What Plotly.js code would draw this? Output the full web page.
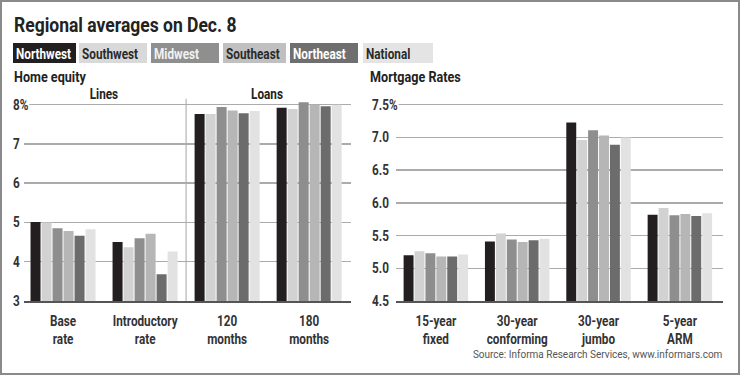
<!DOCTYPE html>
<html>
<head>
<meta charset="utf-8">
<script src="https://cdn.plot.ly/plotly-3.0.1.min.js"></script>
<style>
html,body{margin:0;padding:0;background:#fff;}
#chart{width:740px;height:375px;}
</style>
</head>
<body>
<div id="chart"></div>
<script>
// ---- data ----
const regions = ["Northwest", "Southwest", "Midwest", "Southeast", "Northeast", "National"];
const equityCategories = ["Base<br>rate", "Introductory<br>rate", "120<br>months", "180<br>months"];
const mortgageCategories = ["15-year<br>fixed", "30-year<br>conforming", "30-year<br>jumbo", "5-year<br>ARM"];

const equityNorthwest = [5.01, 4.50, 7.76, 7.92];
const equitySouthwest = [5.00, 4.37, 7.76, 7.89];
const equityMidwest   = [4.85, 4.60, 7.94, 8.06];
const equitySoutheast = [4.78, 4.71, 7.85, 8.00];
const equityNortheast = [4.66, 3.68, 7.78, 7.96];
const equityNational  = [4.83, 4.26, 7.84, 8.00];

const mortgageNorthwest = [5.20, 5.41, 7.23, 5.82];
const mortgageSouthwest = [5.26, 5.53, 6.96, 5.92];
const mortgageMidwest   = [5.23, 5.44, 7.11, 5.81];
const mortgageSoutheast = [5.18, 5.40, 7.03, 5.83];
const mortgageNortheast = [5.18, 5.43, 6.89, 5.80];
const mortgageNational  = [5.21, 5.45, 7.00, 5.84];

const equityTicks = [3, 4, 5, 6, 7, 8];
const equityTickText = ["3", "4", "5", "6", "7", "8%"];
const mortgageTicks = [4.5, 5.0, 5.5, 6.0, 6.5, 7.0, 7.5];
const mortgageTickText = ["4.5", "5.0", "5.5", "6.0", "6.5", "7.0", "7.5%"];

// ---- styles ----
const barColors = ["#231f20", "#d2d2d2", "#8e8e8e", "#b6b6b6", "#6c6c6c", "#e2e2e2"];
const legendBoxColors = ["#231f20", "#d9d9d9", "#8f8f8f", "#c0c0c0", "#6f6f6f", "#e4e4e4"];
const legendTextColors = ["#ffffff", "#2a2a2a", "#f2f2f2", "#2a2a2a", "#ffffff", "#2a2a2a"];
const F = "Roboto, 'Noto Sans', sans-serif";
const CONDENSE = 0.84;
const W = 740, H = 375;

const equitySeries = [equityNorthwest, equitySouthwest, equityMidwest, equitySoutheast, equityNortheast, equityNational];
const mortgageSeries = [mortgageNorthwest, mortgageSouthwest, mortgageMidwest, mortgageSoutheast, mortgageNortheast, mortgageNational];

const traces = [];
regions.forEach((r, i) => {
  traces.push({type: "bar", name: r, x: equityCategories, y: equitySeries[i], xaxis: "x", yaxis: "y",
    marker: {color: barColors[i], line: {width: 0}}, showlegend: false, hoverinfo: "skip"});
});
regions.forEach((r, i) => {
  traces.push({type: "bar", name: r, x: mortgageCategories, y: mortgageSeries[i], xaxis: "x2", yaxis: "y2",
    marker: {color: barColors[i], line: {width: 0}}, showlegend: false, hoverinfo: "skip"});
});

const px = v => v / W;
const py = v => 1 - v / H;

const annotations = [];
const condenseBy = [];   // horizontal narrowing factor per annotation
const shapes = [];
const bold = (size, color) => ({family: F, size: size, color: color, weight: "bold"});
function addAnn(a, f) { annotations.push(a); condenseBy.push(f || CONDENSE); }

// title & headings
addAnn({text: "Regional averages on Dec. 8", xref: "paper", yref: "paper", x: px(12), y: py(25),
  xanchor: "left", yanchor: "middle", showarrow: false, font: bold(20, "#222")}, 0.875);
addAnn({text: "Home equity", xref: "paper", yref: "paper", x: px(12), y: py(77),
  xanchor: "left", yanchor: "middle", showarrow: false, font: bold(15, "#222")});
addAnn({text: "Mortgage Rates", xref: "paper", yref: "paper", x: px(368), y: py(77),
  xanchor: "left", yanchor: "middle", showarrow: false, font: bold(15, "#222")});
addAnn({text: "Lines", xref: "paper", yref: "paper", x: px(104), y: py(94),
  xanchor: "center", yanchor: "middle", showarrow: false, font: bold(14, "#222")});
addAnn({text: "Loans", xref: "paper", yref: "paper", x: px(267), y: py(94),
  xanchor: "center", yanchor: "middle", showarrow: false, font: bold(14, "#222")});
addAnn({text: "Source: Informa Research Services, www.informars.com", xref: "paper", yref: "paper",
  x: px(725), y: py(354), xanchor: "right", yanchor: "middle", showarrow: false,
  font: {family: F, size: 11, color: "#555"}}, 0.91);

// legend boxes
const boxEdges = [[13, 76], [79, 147], [151, 219], [223, 286], [290, 358], [363, 433]];
regions.forEach((r, i) => {
  const [a, b] = boxEdges[i];
  shapes.push({type: "rect", xref: "paper", yref: "paper", x0: px(a), x1: px(b), y0: py(63), y1: py(43),
    fillcolor: legendBoxColors[i], line: {width: 0}, layer: "below"});
  addAnn({text: r, xref: "paper", yref: "paper", x: px(a + 1), y: py(53.5),
    xanchor: "left", yanchor: "middle", showarrow: false, font: bold(14, legendTextColors[i])});
});

// y tick labels (left-aligned, masking gridline start)
equityTicks.forEach((t, i) => {
  addAnn({text: equityTickText[i], xref: "paper", yref: "y", x: px(11), y: t,
    xanchor: "left", yanchor: "middle", showarrow: false, bgcolor: "#ffffff", borderpad: 1,
    font: bold(14, "#333")});
});
mortgageTicks.forEach((t, i) => {
  addAnn({text: mortgageTickText[i], xref: "paper", yref: "y2", x: px(370), y: t,
    xanchor: "left", yanchor: "middle", showarrow: false, bgcolor: "#ffffff", borderpad: 1,
    font: bold(14, "#333")});
});

// separator between Lines and Loans
shapes.push({type: "line", xref: "x", yref: "y", x0: 1.5, x1: 1.5, y0: 3, y1: 8.2,
  line: {color: "#c4c4c4", width: 1.5}, layer: "below"});

// outer frame
shapes.push({type: "rect", xref: "paper", yref: "paper", x0: px(1), x1: px(739), y0: py(374), y1: py(1),
  line: {color: "#8a8a8a", width: 2}, fillcolor: "rgba(0,0,0,0)"});

const yBottom = 301, unitL = 39.26, unitR = 65.43;
const xAxisCommon = {type: "category", showgrid: false, zeroline: false, showline: true, linecolor: "#555", linewidth: 1.5,
  ticks: "outside", ticklen: 7, tickcolor: "rgba(0,0,0,0)", tickfont: bold(14, "#333"), fixedrange: true};
const yAxisCommon = {showgrid: true, gridcolor: "#ababab", gridwidth: 1.5, zeroline: false, showline: false,
  showticklabels: false, ticks: "", fixedrange: true};

const layout = {
  width: W, height: H,
  margin: {l: 0, r: 0, t: 0, b: 0},
  paper_bgcolor: "#ffffff", plot_bgcolor: "rgba(0,0,0,0)",
  barmode: "group", bargap: 0.195, bargroupgap: 0.09,
  showlegend: false,
  xaxis: Object.assign({}, xAxisCommon, {domain: [px(24), px(351)], range: [-0.476, 3.51], anchor: "y",
    tickangle: 0}),
  yaxis: Object.assign({}, yAxisCommon, {domain: [py(yBottom), py(yBottom - 5.15 * unitL)], range: [3, 8.15],
    tickvals: equityTicks, anchor: "x"}),
  xaxis2: Object.assign({}, xAxisCommon, {domain: [px(396), px(723)], range: [-0.49, 3.53], anchor: "y2",
    tickangle: 0}),
  yaxis2: Object.assign({}, yAxisCommon, {domain: [py(yBottom), py(yBottom - 3.1 * unitR)], range: [4.5, 7.6],
    tickvals: mortgageTicks, anchor: "x2"}),
  annotations: annotations,
  shapes: shapes
};

// emulate a condensed typeface by narrowing glyphs horizontally around each text's anchor
function condense(el, pivotEl, mode, f) {
  const b = pivotEl.getBBox();
  const cx = mode === "left" ? b.x : (mode === "right" ? b.x + b.width : b.x + b.width / 2);
  const ex = el.getAttribute("transform") || "";
  el.setAttribute("transform", ex + " translate(" + cx + ",0) scale(" + f + ",1) translate(" + (-cx) + ",0)");
}

Plotly.newPlot("chart", traces, layout, {staticPlot: true, displayModeBar: false}).then(gd => {
  gd.querySelectorAll("g.annotation").forEach(g => {
    const idx = +g.getAttribute("data-index");
    const ann = annotations[idx];
    const t = g.querySelector("text.annotation-text");
    if (!t || !ann) return;
    const f = condenseBy[idx];
    const mode = ann.xanchor === "left" ? "left" : (ann.xanchor === "right" ? "right" : "center");
    const bg = g.querySelector("rect.bg");
    if (bg && ann.bgcolor) condense(bg, t, mode, f);
    condense(t, t, mode, f);
  });
  gd.querySelectorAll("g.xtick text, g.x2tick text").forEach(t => condense(t, t, "center", CONDENSE));
});
</script>
</body>
</html>
